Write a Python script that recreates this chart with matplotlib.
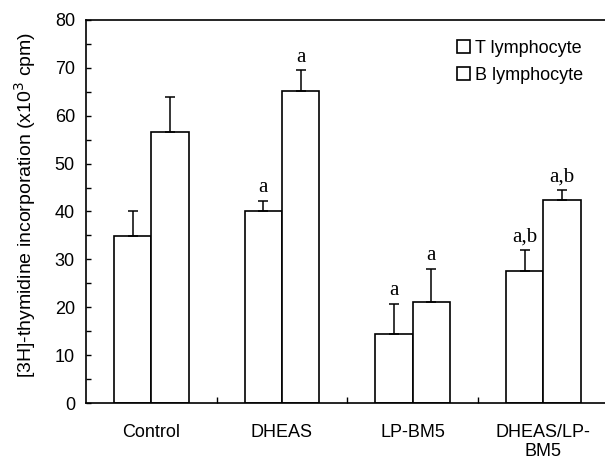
import matplotlib
matplotlib.use("Agg")
import matplotlib.pyplot as plt
from matplotlib.patches import Patch
import numpy as np

categories = ["Control", "DHEAS", "LP-BM5", "DHEAS/LP-\nBM5"]
t_vals = [34.8, 40.2, 14.5, 27.6]
t_err = [5.3, 2.0, 6.2, 4.3]
b_vals = [56.7, 65.1, 21.0, 42.4]
b_err = [7.3, 4.4, 7.0, 2.0]
t_marks = ["", "a", "a", "a,b"]
b_marks = ["", "a", "a", "a,b"]
series_names = ["T lymphocyte", "B lymphocyte"]

sans = ["Liberation Sans", "DejaVu Sans"]
serif = ["Liberation Serif", "DejaVu Serif"]
plt.rcParams['font.family'] = sans

fig = plt.figure(figsize=(6.05, 4.61), dpi=100)
ax = fig.add_axes([86/605, 58/461, 522.5/605, 383/461])

x = np.arange(len(categories))
w = 0.286
lw = 1.2
ax.bar(x - w/2, t_vals, w, color="white", edgecolor="black", linewidth=lw, zorder=2)
ax.bar(x + w/2, b_vals, w, color="white", edgecolor="black", linewidth=lw, zorder=2)
ax.errorbar(x - w/2, t_vals, yerr=[np.zeros(4), t_err], fmt="none", ecolor="black",
            elinewidth=1.1, capsize=3.5, capthick=1.1, zorder=3)
ax.errorbar(x + w/2, b_vals, yerr=[np.zeros(4), b_err], fmt="none", ecolor="black",
            elinewidth=1.1, capsize=3.5, capthick=1.1, zorder=3)

for xi, v, e, m in zip(x - w/2, t_vals, t_err, t_marks):
    if m:
        ax.text(xi, v + e + 1.8, m, ha="center", va="baseline", fontsize=15, family=serif)
for xi, v, e, m in zip(x + w/2, b_vals, b_err, b_marks):
    if m:
        ax.text(xi, v + e + 1.8, m, ha="center", va="baseline", fontsize=15, family=serif)

ax.set_xlim(-0.5, 3.5)
ax.set_ylim(0, 80)
ax.set_yticks(np.arange(0, 81, 10))
ax.set_yticks(np.arange(0, 81, 5), minor=True)
ax.tick_params(axis="y", which="both", direction="in", length=3.5, width=1, labelsize=13, pad=8)
ax.set_xticks(x)
ax.set_xticklabels(categories, fontsize=13)
ax.set_xticks(x[:-1] + 0.5, minor=True)
ax.tick_params(axis="x", which="major", length=0, pad=15)
ax.tick_params(axis="x", which="minor", direction="in", length=4, width=1)
for s in ["left", "bottom", "top"]:
    ax.spines[s].set_linewidth(1.2)
ax.spines["right"].set_visible(False)

ax.set_ylabel("[3H]-thymidine incorporation (x10$^3$ cpm)", fontsize=14)
ax.yaxis.set_label_coords(-0.092, 0.516)

handles = [Patch(facecolor="white", edgecolor="black", linewidth=1.2) for _ in series_names]
leg = ax.legend(handles, series_names, loc="upper left", bbox_to_anchor=(457/605, 1 - 40/461),
                bbox_transform=fig.transFigure, frameon=False, fontsize=13,
                handlelength=0.7, handleheight=0.7, handletextpad=0.3,
                labelspacing=0.55, borderpad=0, borderaxespad=0)

fig.savefig("out.png", dpi=100)
